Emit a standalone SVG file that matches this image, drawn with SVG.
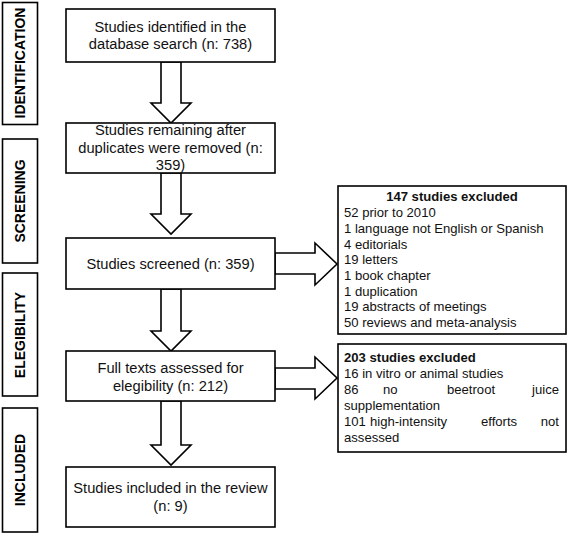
<svg xmlns="http://www.w3.org/2000/svg" width="567" height="534" viewBox="0 0 567 534">
<style>
.box{fill:#fff;stroke:#000;stroke-width:1.6}
.arr{fill:#fff;stroke:#000;stroke-width:1.6;stroke-linejoin:miter}
.t{font-family:"Liberation Sans",Arial,sans-serif;font-size:14.7px;fill:#111;text-anchor:middle}
.s{font-family:"Liberation Sans",Arial,sans-serif;font-size:13.1px;fill:#111}
.b{font-weight:bold}
.lab{font-family:"Liberation Sans",Arial,sans-serif;font-size:14px;font-weight:bold;fill:#000;text-anchor:middle}
</style>
<rect width="567" height="534" fill="#fff"/>
<g id="phase-identification">
<rect class="box" x="2.5" y="2.5" width="35" height="122"/>
<text class="lab" transform="translate(25,63) rotate(-90)">IDENTIFICATION</text>
</g>
<g id="phase-screening">
<rect class="box" x="2.5" y="139" width="35" height="124"/>
<text class="lab" transform="translate(25,201) rotate(-90)">SCREENING</text>
</g>
<g id="phase-eligibility">
<rect class="box" x="2.5" y="273" width="35" height="123"/>
<text class="lab" transform="translate(25,335) rotate(-90)">ELEGIBILITY</text>
</g>
<g id="phase-included">
<rect class="box" x="2.5" y="408" width="35" height="124"/>
<text class="lab" transform="translate(25,470) rotate(-90)">INCLUDED</text>
</g>
<g id="connectors">
<polygon class="arr" points="161,62 181,62 181,103 191,103 171,123 151,103 161,103"/>
<polygon class="arr" points="161,173 181,173 181,214 191,214 171,234 151,214 161,214"/>
<polygon class="arr" points="161,289 181,289 181,331 191,331 171,351 151,331 161,331"/>
<polygon class="arr" points="161,401 181,401 181,445 191,445 171,465 151,445 161,445"/>
<polygon class="arr" points="275,253 315,253 315,243 337,264 315,285 315,274 275,274"/>
<polygon class="arr" points="275,368 315,368 315,357 337,378 315,399 315,389 275,389"/>
</g>
<g id="n1">
<rect class="box" x="66" y="9" width="209" height="53"/>
<text class="t" x="170.5" y="32">Studies identified in the</text>
<text class="t" x="170.5" y="49">database search (n: 738)</text>
</g>
<g id="n2">
<rect class="box" x="66" y="123" width="209" height="50"/>
<text class="t" x="170.5" y="135">Studies remaining after</text>
<text class="t" x="170.5" y="153">duplicates were removed (n:</text>
<text class="t" x="170.5" y="170">359)</text>
</g>
<g id="n3">
<rect class="box" x="66" y="238" width="209" height="51"/>
<text class="t" x="170.5" y="269">Studies screened (n: 359)</text>
</g>
<g id="n4">
<rect class="box" x="66" y="351" width="209" height="50"/>
<text class="t" x="170.5" y="373">Full texts assessed for</text>
<text class="t" x="170.5" y="391">elegibility (n: 212)</text>
</g>
<g id="n5">
<rect class="box" x="66" y="467" width="209" height="60"/>
<text class="t" x="170.5" y="493">Studies included in the review</text>
<text class="t" x="170.5" y="511">(n: 9)</text>
</g>
<g id="excl1">
<rect class="box" x="338" y="186" width="228" height="148"/>
<text class="s b" x="452" y="201" text-anchor="middle">147 studies excluded</text>
<text class="s" x="344" y="217">52 prior to 2010</text>
<text class="s" x="344" y="233">1 language not English or Spanish</text>
<text class="s" x="344" y="249">4 editorials</text>
<text class="s" x="344" y="264">19 letters</text>
<text class="s" x="344" y="280">1 book chapter</text>
<text class="s" x="344" y="296">1 duplication</text>
<text class="s" x="344" y="311">19 abstracts of meetings</text>
<text class="s" x="344" y="327">50 reviews and meta-analysis</text>
</g>
<g id="excl2">
<rect class="box" x="338" y="344" width="228" height="108"/>
<text class="s b" x="344" y="362">203 studies excluded</text>
<text class="s" x="344" y="378">16 in vitro or animal studies</text>
<text class="s" x="344" y="394">86</text>
<text class="s" x="383" y="394">no</text>
<text class="s" x="447" y="394">beetroot</text>
<text class="s" x="559" y="394" text-anchor="end">juice</text>
<text class="s" x="344" y="410">supplementation</text>
<text class="s" x="344" y="426">101</text>
<text class="s" x="370" y="426">high-intensity</text>
<text class="s" x="481" y="426">efforts</text>
<text class="s" x="559" y="426" text-anchor="end">not</text>
<text class="s" x="344" y="442">assessed</text>
</g>
</svg>
